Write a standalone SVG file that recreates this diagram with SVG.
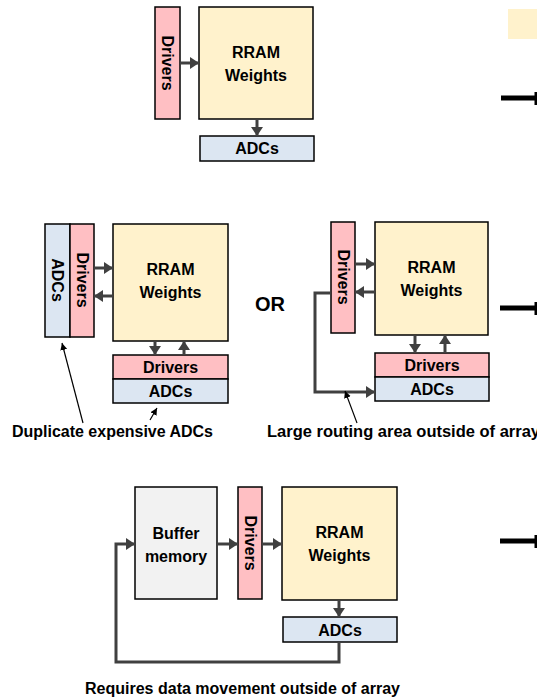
<svg xmlns="http://www.w3.org/2000/svg" width="537" height="700" viewBox="0 0 537 700">
<defs>
<style>
.box{stroke:#000;stroke-width:1.5}
.drv{fill:#ffbfc3}
.adc{fill:#dce6f2}
.rram{fill:#fff2cc}
.buf{fill:#f2f2f2}
text{font-family:"Liberation Sans",Arial,sans-serif;font-weight:bold;fill:#000}
.t{font-size:16px;text-anchor:middle}
.lbl{font-size:16px}
.conn{fill:none;stroke:#404040;stroke-width:3}
.ann{fill:none;stroke:#000;stroke-width:1.2}
.blk{fill:none;stroke:#000;stroke-width:5}
</style>
<marker id="ah" markerUnits="userSpaceOnUse" markerWidth="10" markerHeight="12" refX="9" refY="6" orient="auto">
<path d="M0,0 L9,6 L0,12 Z" fill="#404040"/>
</marker>
<marker id="sa" markerUnits="userSpaceOnUse" markerWidth="8" markerHeight="8" refX="7" refY="4" orient="auto">
<path d="M0,0.5 L7,4 L0,7.5 Z" fill="#000"/>
</marker>
</defs>

<!-- Top section -->
<g id="top-drivers"><rect class="box drv" x="155" y="7" width="25" height="112"/><text class="t" transform="translate(167.5,63) rotate(90)" dominant-baseline="central">Drivers</text></g>
<g id="top-rram"><rect class="box rram" x="199" y="7" width="114" height="112"/><text class="t" x="256" y="58">RRAM</text><text class="t" x="256" y="81">Weights</text></g>
<g id="top-adcs"><rect class="box adc" x="200" y="136" width="114" height="25"/><text class="t" x="257" y="154">ADCs</text></g>
<g id="legend-box"><rect x="508" y="9" width="30" height="30" fill="#fff2cc"/></g>

<!-- Middle left -->
<g id="ml-adcs"><rect class="box adc" x="45" y="224" width="25" height="113"/><text class="t" transform="translate(57.5,280) rotate(90)" dominant-baseline="central">ADCs</text></g>
<g id="ml-drivers"><rect class="box drv" x="70" y="224" width="24" height="113"/><text class="t" transform="translate(82,280) rotate(90)" dominant-baseline="central">Drivers</text></g>
<g id="ml-rram"><rect class="box rram" x="113" y="224" width="115" height="117"/><text class="t" x="170.5" y="275">RRAM</text><text class="t" x="170.5" y="298">Weights</text></g>
<g id="ml-bdrivers"><rect class="box drv" x="113" y="355" width="115" height="24"/><text class="t" x="170.5" y="373">Drivers</text></g>
<g id="ml-badcs"><rect class="box adc" x="113" y="379" width="115" height="24"/><text class="t" x="170.5" y="397">ADCs</text></g>
<g id="or-label"><text x="270" y="311" style="font-size:20px;text-anchor:middle">OR</text></g>
<g id="dup-label"><text class="lbl" x="12" y="437" textLength="201" lengthAdjust="spacingAndGlyphs">Duplicate expensive ADCs</text></g>

<!-- Middle right -->
<g id="mr-drivers"><rect class="box drv" x="331" y="222" width="24" height="111"/><text class="t" transform="translate(343,277) rotate(90)" dominant-baseline="central">Drivers</text></g>
<g id="mr-rram"><rect class="box rram" x="375" y="222" width="113" height="113"/><text class="t" x="431.5" y="273">RRAM</text><text class="t" x="431.5" y="296">Weights</text></g>
<g id="mr-bdrivers"><rect class="box drv" x="375" y="353" width="114" height="24"/><text class="t" x="432" y="371">Drivers</text></g>
<g id="mr-badcs"><rect class="box adc" x="375" y="377" width="114" height="24"/><text class="t" x="432" y="395">ADCs</text></g>
<g id="route-label"><text class="lbl" x="267" y="437" textLength="273" lengthAdjust="spacingAndGlyphs">Large routing area outside of array</text></g>

<!-- Bottom -->
<g id="b-buffer"><rect class="box buf" x="135" y="487" width="82" height="112"/><text class="t" x="176" y="539">Buffer</text><text class="t" x="176" y="562">memory</text></g>
<g id="b-drivers"><rect class="box drv" x="238" y="487" width="24" height="112"/><text class="t" transform="translate(250,543) rotate(90)" dominant-baseline="central">Drivers</text></g>
<g id="b-rram"><rect class="box rram" x="282" y="487" width="115" height="113"/><text class="t" x="339.5" y="538">RRAM</text><text class="t" x="339.5" y="561">Weights</text></g>
<g id="b-adcs"><rect class="box adc" x="283" y="617" width="114" height="25"/><text class="t" x="340" y="636">ADCs</text></g>
<g id="req-label"><text class="lbl" x="85" y="694" textLength="315" lengthAdjust="spacingAndGlyphs">Requires data movement outside of array</text></g>

<g id="connectors">
<!-- top -->
<line class="conn" x1="181" y1="63" x2="199" y2="63" marker-end="url(#ah)"/>
<line class="conn" x1="257" y1="119" x2="257" y2="136" marker-end="url(#ah)"/>
<!-- middle left -->
<line class="conn" x1="94" y1="268" x2="113" y2="268" marker-end="url(#ah)"/>
<line class="conn" x1="113" y1="296" x2="94" y2="296" marker-end="url(#ah)"/>
<line class="conn" x1="155" y1="341" x2="155" y2="355" marker-end="url(#ah)"/>
<line class="conn" x1="184" y1="355" x2="184" y2="341" marker-end="url(#ah)"/>
<line class="ann" x1="83" y1="423" x2="62" y2="343" marker-end="url(#sa)"/>
<line class="ann" x1="150" y1="420" x2="157" y2="408" marker-end="url(#sa)"/>
<!-- middle right -->
<line class="conn" x1="355" y1="264" x2="375" y2="264" marker-end="url(#ah)"/>
<line class="conn" x1="375" y1="292" x2="355" y2="292" marker-end="url(#ah)"/>
<line class="conn" x1="415" y1="335" x2="415" y2="353" marker-end="url(#ah)"/>
<line class="conn" x1="445" y1="353" x2="445" y2="335" marker-end="url(#ah)"/>
<polyline class="conn" points="331,293 315,293 315,392 375,392" marker-end="url(#ah)"/>
<line class="ann" x1="357" y1="423" x2="345" y2="391" marker-end="url(#sa)"/>
<!-- bottom -->
<line class="conn" x1="217" y1="544" x2="238" y2="544" marker-end="url(#ah)"/>
<line class="conn" x1="262" y1="544" x2="282" y2="544" marker-end="url(#ah)"/>
<line class="conn" x1="339" y1="600" x2="339" y2="617" marker-end="url(#ah)"/>
<polyline class="conn" points="339,642 339,662 116,662 116,544 135,544" marker-end="url(#ah)"/>
<!-- black arrows cut at right edge -->
<line class="blk" x1="501" y1="98" x2="537" y2="98"/>
<rect x="534.5" y="92" width="2.5" height="13" fill="#000"/>
<line class="blk" x1="500" y1="308" x2="537" y2="308"/>
<rect x="534.5" y="302" width="2.5" height="13" fill="#000"/>
<line class="blk" x1="500" y1="541" x2="537" y2="541"/>
<rect x="534.5" y="535" width="2.5" height="13" fill="#000"/>
</g>
</svg>
